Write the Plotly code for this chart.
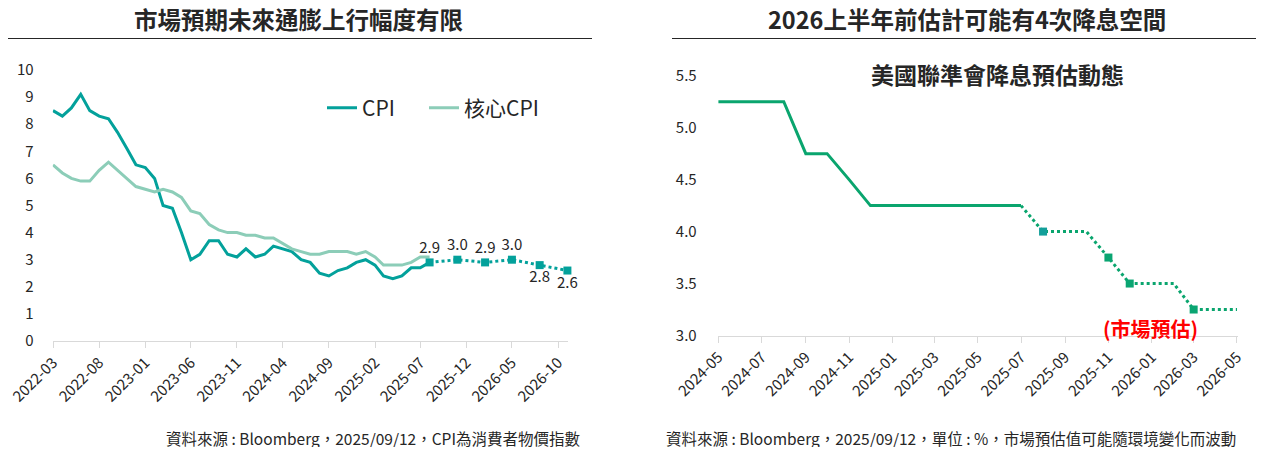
import plotly.graph_objects as go

# ---- left chart data: US CPI / core CPI, YoY % ----
cpi_months = ["2022-03", "2022-04", "2022-05", "2022-06", "2022-07", "2022-08", "2022-09", "2022-10",
              "2022-11", "2022-12", "2023-01", "2023-02", "2023-03", "2023-04", "2023-05", "2023-06",
              "2023-07", "2023-08", "2023-09", "2023-10", "2023-11", "2023-12", "2024-01", "2024-02",
              "2024-03", "2024-04", "2024-05", "2024-06", "2024-07", "2024-08", "2024-09", "2024-10",
              "2024-11", "2024-12", "2025-01", "2025-02", "2025-03", "2025-04", "2025-05", "2025-06",
              "2025-07", "2025-08"]
cpi = [8.5, 8.3, 8.6, 9.1, 8.5, 8.3, 8.2, 7.7, 7.1, 6.5, 6.4, 6.0, 5.0, 4.9, 4.0, 3.0,
       3.2, 3.7, 3.7, 3.2, 3.1, 3.4, 3.1, 3.2, 3.5, 3.4, 3.3, 3.0, 2.9, 2.5, 2.4, 2.6,
       2.7, 2.9, 3.0, 2.8, 2.4, 2.3, 2.4, 2.7, 2.7, 2.9]
core_cpi = [6.5, 6.2, 6.0, 5.9, 5.9, 6.3, 6.6, 6.3, 6.0, 5.7, 5.6, 5.5, 5.6, 5.5, 5.3, 4.8,
            4.7, 4.3, 4.1, 4.0, 4.0, 3.9, 3.9, 3.8, 3.8, 3.6, 3.4, 3.3, 3.2, 3.2, 3.3, 3.3,
            3.3, 3.2, 3.3, 3.1, 2.8, 2.8, 2.8, 2.9, 3.1, 3.1]

# market forecast for CPI
fc_months = ["2025-08", "2025-11", "2026-02", "2026-05", "2026-08", "2026-11"]
cpi_fc = [2.9, 3.0, 2.9, 3.0, 2.8, 2.6]
fc_label_pos = ["top center", "top center", "top center", "top center", "bottom center", "bottom center"]

# ---- right chart data: Fed funds rate (upper bound), % ----
fed_months = ["2024-05", "2024-06", "2024-07", "2024-08", "2024-09", "2024-10", "2024-11", "2024-12",
              "2025-01", "2025-02", "2025-03", "2025-04", "2025-05", "2025-06", "2025-07"]
fed_rate = [5.25, 5.25, 5.25, 5.25, 4.75, 4.75, 4.5, 4.25, 4.25, 4.25, 4.25, 4.25, 4.25, 4.25, 4.25]

fed_fc_months = ["2025-07", "2025-08", "2025-09", "2025-10", "2025-11", "2025-12", "2026-01",
                 "2026-02", "2026-03", "2026-04", "2026-05"]
fed_fc = [4.25, 4.0, 4.0, 4.0, 3.75, 3.5, 3.5, 3.5, 3.25, 3.25, 3.25]

cut_months = ["2025-08", "2025-11", "2025-12", "2026-03"]
cut_rates = [4.0, 3.75, 3.5, 3.25]

FONT = "Noto Sans CJK TC"
CPI_COLOR = "#03a19b"
CORE_COLOR = "#8ccdb8"
FED_COLOR = "#0aa56e"
TXT = "#262626"

# page body has an 8px margin, so the figure is a bit smaller than the window
OFF = 8
W, H = 1264 - 2 * OFF, 455 - 2 * OFF


def px(x):
    # window pixel -> paper x
    return (x - OFF) / W


def py(y):
    # window pixel -> paper y
    return 1 - (y - OFF) / H


def d(m):
    return m + "-01"


fig = go.Figure()

fig.add_trace(go.Scatter(x=[d(m) for m in cpi_months], y=cpi, name="CPI", mode="lines",
                         line=dict(color=CPI_COLOR, width=3), xaxis="x", yaxis="y",
                         legend="legend"))
fig.add_trace(go.Scatter(x=[d(m) for m in cpi_months], y=core_cpi, name="核心CPI", mode="lines",
                         line=dict(color=CORE_COLOR, width=3), xaxis="x", yaxis="y",
                         legend="legend2"))
fig.add_trace(go.Scatter(x=[d(m) for m in fc_months], y=cpi_fc, mode="lines+markers+text",
                         line=dict(color=CPI_COLOR, width=3, dash="dot"),
                         marker=dict(symbol="square", size=8, color=CPI_COLOR),
                         text=[f"{v:.1f}" for v in cpi_fc], textposition=fc_label_pos,
                         textfont=dict(size=15, color=TXT, family=FONT), cliponaxis=False,
                         showlegend=False, xaxis="x", yaxis="y"))

fig.add_trace(go.Scatter(x=[d(m) for m in fed_months], y=fed_rate, mode="lines",
                         line=dict(color=FED_COLOR, width=3), showlegend=False,
                         xaxis="x2", yaxis="y2"))
fig.add_trace(go.Scatter(x=[d(m) for m in fed_fc_months], y=fed_fc, mode="lines",
                         line=dict(color=FED_COLOR, width=3, dash="dot"), showlegend=False,
                         xaxis="x2", yaxis="y2"))
fig.add_trace(go.Scatter(x=[d(m) for m in cut_months], y=cut_rates, mode="markers",
                         marker=dict(symbol="square", size=8,
                                     color=["#139f9a", "#0aa572", "#0aa572", "#0aa572"]),
                         cliponaxis=False, showlegend=False, xaxis="x2", yaxis="y2"))

axis_common = dict(showgrid=False, zeroline=False, automargin=False,
                   tickfont=dict(size=15, color=TXT, family=FONT))
xcommon = dict(axis_common, type="date", tickformat="%Y-%m", tickangle=-45, showline=True,
               linecolor="#d9d9d9", linewidth=1, ticks="outside", ticklen=6, tickcolor="#d9d9d9",
               ticklabeloverflow="allow")
leg = dict(orientation="h", xanchor="left", yanchor="middle", y=py(108), itemwidth=30,
           font=dict(size=21, color=TXT, family=FONT), bgcolor="rgba(0,0,0,0)")

fig.update_layout(
    width=W, height=H,
    margin=dict(l=0, r=0, t=0, b=0, autoexpand=False),
    paper_bgcolor="white", plot_bgcolor="white",
    font=dict(family=FONT, color=TXT),
    xaxis=dict(xcommon, domain=[px(52.7), px(568.3)], range=["2022-02-28", "2026-11-04"],
               tick0="2022-03-01", dtick="M5", anchor="y"),
    yaxis=dict(axis_common, domain=[py(341), py(70)], range=[0, 10], dtick=1,
               ticklabelstandoff=18, anchor="x"),
    xaxis2=dict(xcommon, domain=[px(717.7), px(1237.7)], range=["2024-04-30", "2026-05-02"],
                tick0="2024-05-01", dtick="M2", anchor="y2"),
    yaxis2=dict(axis_common, domain=[py(335.5), py(75.7)], range=[3, 5.5], dtick=0.5,
                tickformat=".1f", ticklabelstandoff=20, anchor="x2"),
    legend=dict(leg, x=px(322)),
    legend2=dict(leg, x=px(424)),
    showlegend=True,
)

# panel titles and separator lines
fig.add_annotation(text="<b>市場預期未來通膨上行幅度有限</b>", x=px(298), y=py(19),
                   xref="paper", yref="paper", xanchor="center", yanchor="middle",
                   showarrow=False, font=dict(size=23.5, color=TXT))
fig.add_annotation(text="<b>2026上半年前估計可能有4次降息空間</b>", x=px(967), y=py(19),
                   xref="paper", yref="paper", xanchor="center", yanchor="middle",
                   showarrow=False, font=dict(size=23.5, color=TXT))
fig.add_shape(type="line", xref="paper", yref="paper", x0=px(3), x1=px(592),
              y0=py(38.5), y1=py(38.5), line=dict(color="#262626", width=1.2))
fig.add_shape(type="line", xref="paper", yref="paper", x0=px(672), x1=1.0,
              y0=py(38.5), y1=py(38.5), line=dict(color="#262626", width=1.2))

# right chart subtitle and forecast note
fig.add_annotation(text="<b>美國聯準會降息預估動態</b>", x=px(997), y=py(74),
                   xref="paper", yref="paper", xanchor="center", yanchor="middle",
                   showarrow=False, font=dict(size=23, color=TXT))
fig.add_annotation(text="<b>(市場預估)</b>", x=px(1150), y=py(328),
                   xref="paper", yref="paper", xanchor="center", yanchor="middle",
                   showarrow=False, font=dict(size=20, color="#ff0000"))

# sources
fig.add_annotation(text="資料來源 : Bloomberg，2025/09/12，CPI為消費者物價指數",
                   x=px(582), y=py(438), xref="paper", yref="paper",
                   xanchor="right", yanchor="middle",
                   showarrow=False, font=dict(size=15.5, color=TXT))
fig.add_annotation(text="資料來源 : Bloomberg，2025/09/12，單位 : %，市場預估值可能隨環境變化而波動",
                   x=px(1238), y=py(438), xref="paper", yref="paper",
                   xanchor="right", yanchor="middle",
                   showarrow=False, font=dict(size=15.5, color=TXT))

fig.write_html("out.html")
